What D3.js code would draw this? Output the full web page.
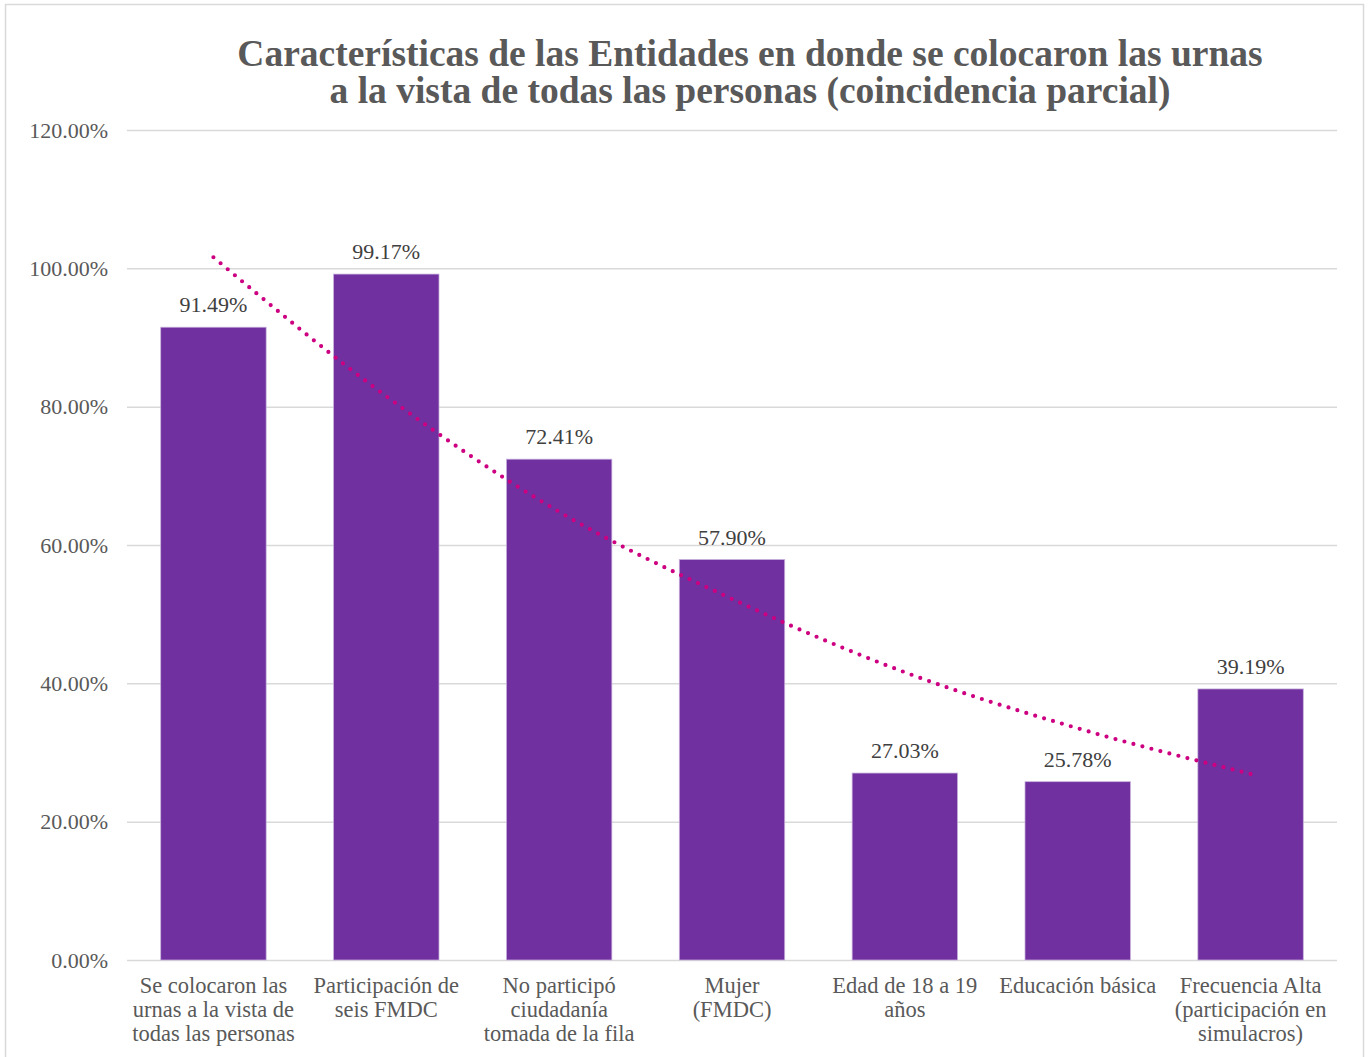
<!DOCTYPE html>
<html>
<head>
<meta charset="utf-8">
<script src="https://cdn.jsdelivr.net/npm/d3@7"></script>
<style>
    body { margin: 0; background: #fff; }
    svg { display: block; }
</style>
</head>
<body>
<svg id="chart" width="1368" height="1057"></svg>
<script>
// 类别（每个标签按行拆开）
const categories = [
    ["Se colocaron las", "urnas a la vista de", "todas las personas"],
    ["Participación de", "seis FMDC"],
    ["No participó", "ciudadanía", "tomada de la fila"],
    ["Mujer", "(FMDC)"],
    ["Edad de 18 a 19", "años"],
    ["Educación básica"],
    ["Frecuencia Alta", "(participación en", "simulacros)"]
];

// 柱子数值（%）
const values = [91.49, 99.17, 72.41, 57.90, 27.03, 25.78, 39.19];

// 趋势线数值（%），按图上每个类别处读取
const trendValues = [101.6, 81.5, 64.8, 52.2, 41.6, 33.5, 26.9];

// y 轴刻度
const yTicks = [0, 20, 40, 60, 80, 100, 120];

const titleLines = [
    "Características de las Entidades en donde se colocaron las urnas",
    "a la vista de todas las personas (coincidencia parcial)"
];

const svg = d3.select("#chart");
const plot = {left: 127, right: 1337, top: 130, bottom: 960};
const serif = "'Liberation Serif', 'DejaVu Serif', serif";

// 外框
svg.append("rect")
    .attr("x", 5.5).attr("y", 4.5)
    .attr("width", 1358).attr("height", 1070)
    .attr("fill", "#fff")
    .attr("stroke", "#d9d9d9")
    .attr("stroke-width", 1.5);

// 比例尺
const x = d3.scaleBand()
    .domain(d3.range(values.length))
    .range([plot.left, plot.right])
    .paddingInner(0.39)
    .paddingOuter(0.195);

const y = d3.scaleLinear()
    .domain([0, 120])
    .range([plot.bottom, plot.top]);

// 标题
svg.append("g").selectAll("text")
    .data(titleLines)
    .join("text")
    .attr("x", 750)
    .attr("y", (d, i) => 66 + i * 37)
    .attr("text-anchor", "middle")
    .style("font-family", serif)
    .style("font-weight", "bold")
    .style("font-size", "37.5px")
    .style("fill", "#595959")
    .text(d => d);

// y 轴 + 网格线
const axisY = svg.append("g")
    .attr("transform", `translate(${plot.left},0)`)
    .call(d3.axisLeft(y)
        .tickValues(yTicks)
        .tickSize(-(plot.right - plot.left))
        .tickPadding(19)
        .tickFormat(d => d.toFixed(2) + "%"));
axisY.select(".domain").remove();
axisY.selectAll(".tick line").attr("stroke", "#d9d9d9").attr("stroke-width", 1.5);
axisY.selectAll(".tick text")
    .style("font-family", serif)
    .style("font-size", "22px")
    .style("fill", "#595959");

// 柱子
svg.append("g").selectAll("rect")
    .data(values)
    .join("rect")
    .attr("x", (d, i) => x(i))
    .attr("y", d => y(d))
    .attr("width", x.bandwidth())
    .attr("height", d => y(0) - y(d))
    .attr("fill", "#7030a0")
    .attr("stroke", "#c8b2dc")
    .attr("stroke-width", 0.75);

// 数据标签
svg.append("g").selectAll("text")
    .data(values)
    .join("text")
    .attr("x", (d, i) => x(i) + x.bandwidth() / 2)
    .attr("y", d => y(d) - 15)
    .attr("text-anchor", "middle")
    .style("font-family", serif)
    .style("font-size", "22px")
    .style("fill", "#404040")
    .text(d => d.toFixed(2) + "%");

// 趋势线（点线）
const line = d3.line()
    .x((d, i) => x(i) + x.bandwidth() / 2)
    .y(d => y(d))
    .curve(d3.curveMonotoneX);
svg.append("path")
    .datum(trendValues)
    .attr("d", line)
    .attr("fill", "none")
    .attr("stroke", "#cc0080")
    .attr("stroke-width", 4.2)
    .attr("stroke-linecap", "round")
    .attr("stroke-dasharray", "0 9.3");

// x 轴
const axisX = svg.append("g")
    .attr("transform", `translate(0,${plot.bottom})`)
    .call(d3.axisBottom(x).tickSize(0).tickFormat(""));
axisX.select(".domain").remove();
axisX.selectAll(".tick text").remove();
axisX.selectAll(".tick").append("text")
    .attr("y", 33)
    .attr("text-anchor", "middle")
    .style("font-family", serif)
    .style("font-size", "22.5px")
    .style("fill", "#595959")
    .selectAll("tspan")
    .data(i => categories[i])
    .join("tspan")
    .attr("x", 0)
    .attr("dy", (d, j) => j === 0 ? 0 : 24)
    .text(d => d);
</script>
</body>
</html>
